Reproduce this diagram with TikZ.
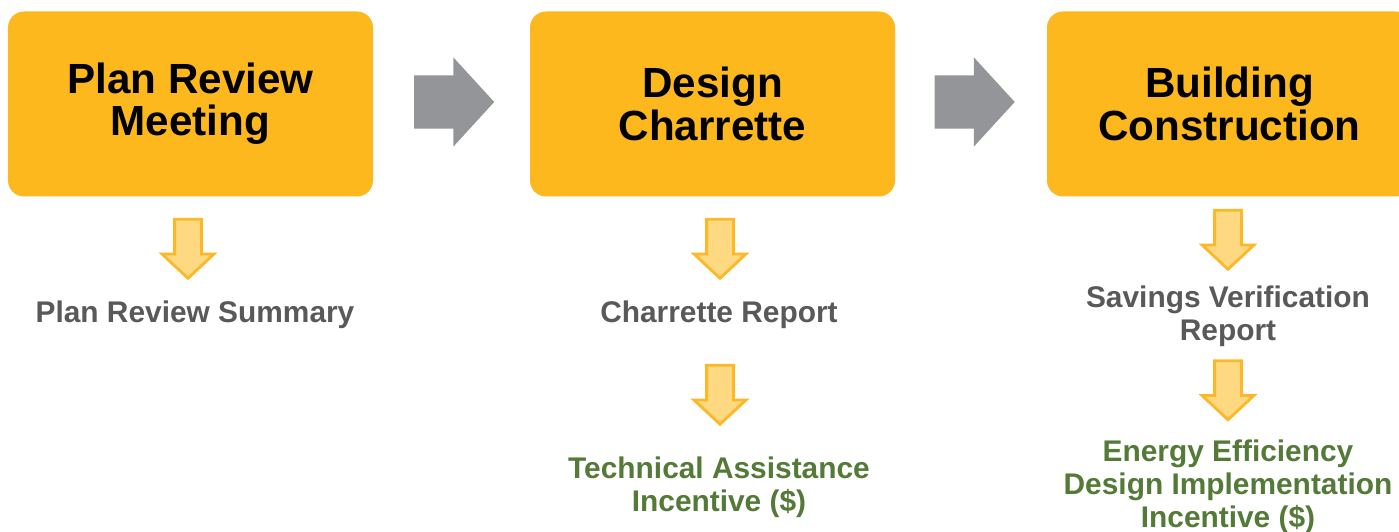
\documentclass[tikz,border=0pt]{standalone}
\usepackage{fontspec}
\setmainfont{Liberation Sans}
\usepackage{xcolor}
\usetikzlibrary{shapes.arrows}

\definecolor{boxorange}{RGB}{253,184,30}
\definecolor{stepgray}{RGB}{147,149,152}
\definecolor{downfill}{RGB}{255,216,130}
\definecolor{downline}{RGB}{253,184,39}
\definecolor{textgray}{RGB}{89,89,89}
\definecolor{incgreen}{RGB}{84,122,55}

\begin{document}
\begin{tikzpicture}[
  phase/.style={rectangle,rounded corners=1.6mm,fill=boxorange,minimum width=36.5mm,minimum height=18.5mm,
    align=center,font=\fontsize{12}{12}\selectfont\bfseries},
  next/.style={single arrow,fill=stepgray,inner xsep=0pt,inner ysep=2.6mm,minimum height=8mm,
    single arrow head extend=1.8mm,single arrow tip angle=95},
  down/.style={single arrow,rotate=-90,fill=downfill,draw=downline,line width=0.8pt,inner xsep=0pt,
    inner ysep=1.2mm,minimum height=5.9mm,single arrow head extend=1.25mm,single arrow tip angle=94},
  report/.style={align=center,text=textgray,font=\fontsize{8.5}{9.4}\selectfont\bfseries},
  incentive/.style={report,text=incgreen}
]
  \useasboundingbox (0,0) rectangle (13.99,5.32);

  % Phases
  \node[phase] (p1) at (1.905,4.28) {Plan Review\\Meeting};
  \node[phase] (p2) at (7.125,4.28) {Design\\Charrette};
  \node[phase] (p3) at (12.295,4.28) {Building\\Construction};

  % Steps between phases
  \node[next] (n12) at (4.42,4.30) {};
  \node[next] (n23) at (9.625,4.30) {};

  % Outputs
  \node[down] (d1) at (1.88,2.895) {};
  \node[report] (r1) at (1.95,2.17) {Plan Review Summary};

  \node[down] (d2) at (7.20,2.895) {};
  \node[report] (r2) at (7.19,2.17) {Charrette Report};
  \node[down] (d2b) at (7.20,1.435) {};
  \node[incentive] (i2) at (7.19,0.445) {Technical Assistance\\Incentive (\$)};

  \node[down] (d3) at (12.28,2.985) {};
  \node[report] (r3) at (12.28,2.155) {Savings Verification\\Report};
  \node[down] (d3b) at (12.28,1.48) {};
  \node[incentive] (i3) at (12.28,0.45) {Energy Efficiency\\Design Implementation\\Incentive (\$)};
\end{tikzpicture}
\end{document}
